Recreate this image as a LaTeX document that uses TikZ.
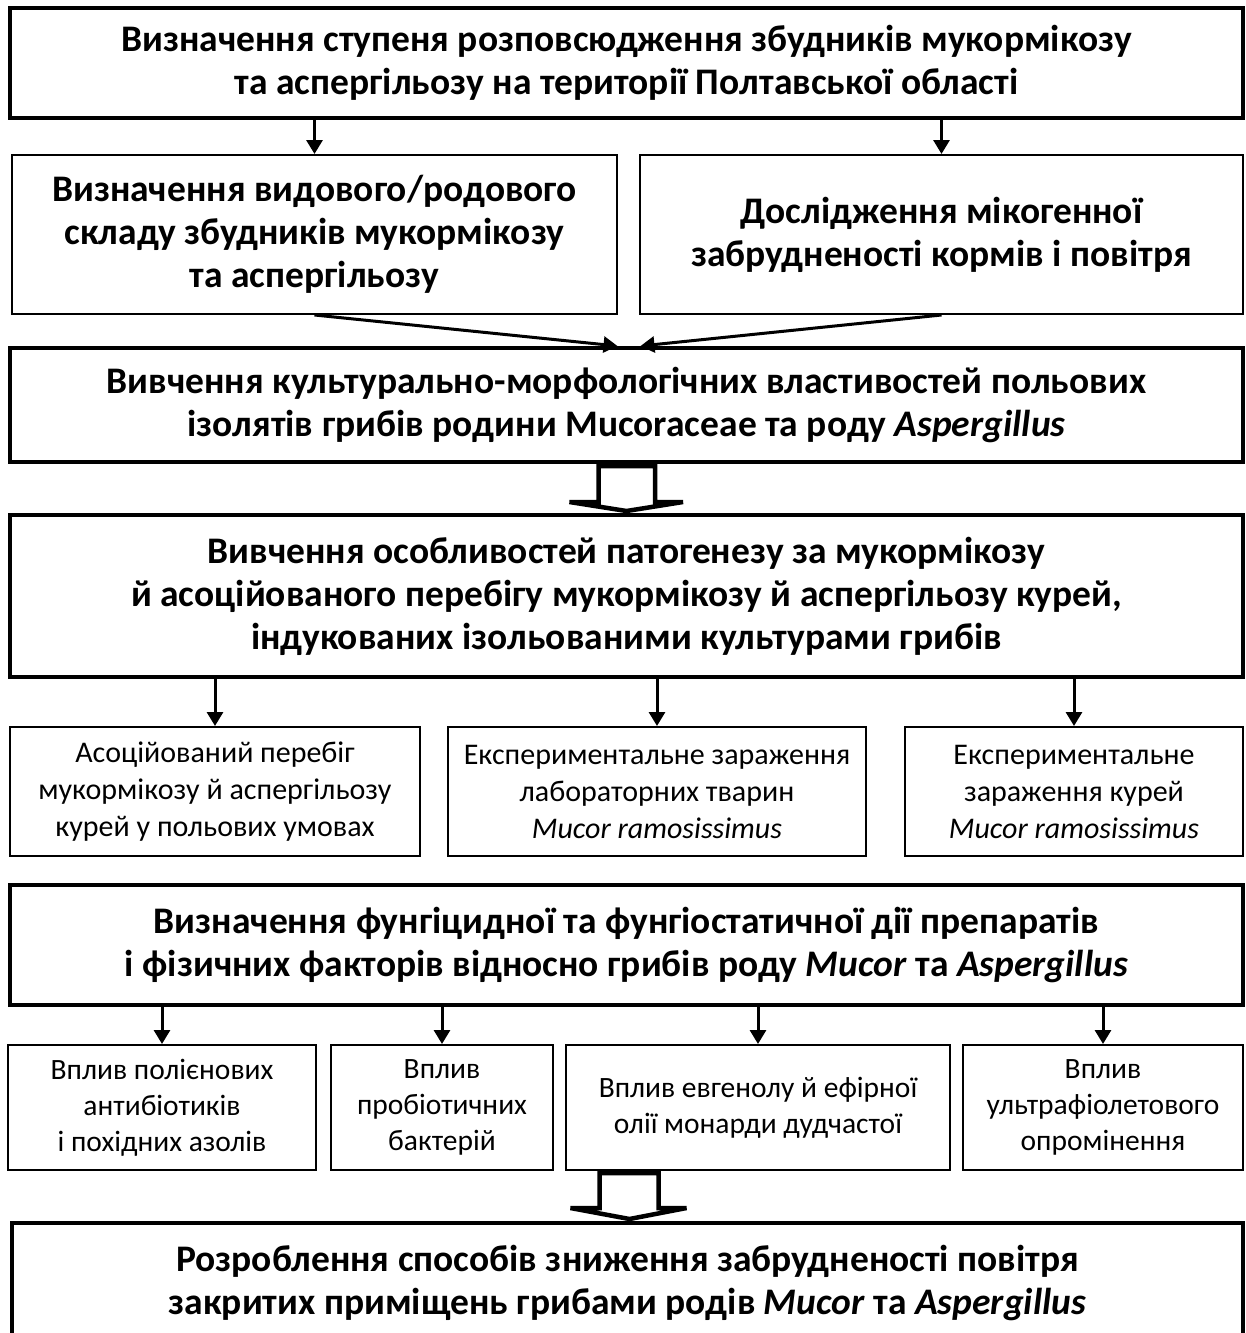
\documentclass[tikz,border=0pt]{standalone}
\usepackage{fontspec}
\setmainfont{Carlito}
\usetikzlibrary{arrows.meta,calc}
\tikzset{
  bigbox/.style={draw, line width=4pt, inner sep=0pt, align=center, font=\fontsize{37.5}{43}\selectfont\bfseries},
  midbox/.style={draw, line width=2pt, inner sep=0pt, align=center, font=\fontsize{37.5}{43}\selectfont\bfseries},
  smallbox/.style={draw, line width=2pt, inner sep=0pt, align=center, font=\fontsize{30}{37}\selectfont},
  smallboxb/.style={smallbox, font=\fontsize{29.5}{36}\selectfont},
  arr/.style={line width=3pt, -{Triangle[length=14pt,width=16pt]}},
  blockarr/.style={draw, fill=white, line width=4.5pt, line join=miter}
}
\begin{document}
\begin{tikzpicture}[x=1pt,y=-1pt]
\useasboundingbox (0,0) rectangle (1245,1333);
% boxes
\node[bigbox, minimum width=1233, minimum height=110] (b1) at (626.5,63)
  {Визначення ступеня розповсюдження збудників мукормікозу\\та аспергільозу на території Полтавської області};
\node[midbox, minimum width=605, minimum height=159] (b2l) at (314.5,234.5)
  {Визначення видового/родового\\складу збудників мукормікозу\\та аспергільозу};
\node[midbox, minimum width=603, minimum height=159] (b2r) at (941.5,234.5)
  {Дослідження мікогенної\\забрудненості кормів і повітря};
\node[bigbox, minimum width=1233, minimum height=114] (b3) at (626.5,405)
  {Вивчення культурально-морфологічних властивостей польових\\ізолятів грибів родини Mucoraceae та роду \textit{Aspergillus}};
\node[bigbox, minimum width=1233, minimum height=162] (b4) at (626.5,596)
  {Вивчення особливостей патогенезу за мукормікозу\\й асоційованого перебігу мукормікозу й аспергільозу курей,\\індукованих ізольованими культурами грибів};
\node[smallbox, minimum width=410, minimum height=129] (r1a) at (215,791.5)
  {Асоційований перебіг\\мукормікозу й аспергільозу\\курей у польових умовах};
\node[smallbox, minimum width=418, minimum height=129] (r1b) at (657,791.5)
  {Експериментальне зараження\\лабораторних тварин\\\textit{Mucor ramosissimus}};
\node[smallbox, minimum width=338, minimum height=129] (r1c) at (1074,791.5)
  {Експериментальне\\зараження курей\\\textit{Mucor ramosissimus}};
\node[bigbox, minimum width=1233, minimum height=120] (b5) at (626.5,945)
  {Визначення фунгіцидної та фунгіостатичної дії препаратів\\і фізичних факторів відносно грибів роду \textit{Mucor} та \textit{Aspergillus}};
\node[smallboxb, minimum width=308, minimum height=125] (r2a) at (162,1107.5)
  {Вплив полієнових\\антибіотиків\\і похідних азолів};
\node[smallboxb, minimum width=222, minimum height=125] (r2b) at (442,1107.5)
  {Вплив\\пробіотичних\\бактерій};
\node[smallboxb, minimum width=384, minimum height=125] (r2c) at (758,1107.5)
  {Вплив евгенолу й ефірної\\олії монарди дудчастої};
\node[smallboxb, minimum width=280, minimum height=125] (r2d) at (1103,1107.5)
  {Вплив\\ультрафіолетового\\опромінення};
\node[bigbox, minimum width=1231, minimum height=120] (b6) at (627.5,1283)
  {Розроблення способів зниження забрудненості повітря\\закритих приміщень грибами родів \textit{Mucor} та \textit{Aspergillus}};
% arrows
\draw[arr] (b1.south -| b2l.north) -- (b2l.north);
\draw[arr] (b1.south -| b2r.north) -- (b2r.north);
\draw[arr] (b2l.south) -- ($(b3.north)+(-9,0)$);
\draw[arr] (b2r.south) -- ($(b3.north)+(14,0)$);
\draw[blockarr] ($(b3.south)+(-28,2)$) -- ++(0,36) -- ++(-29,0) -- ($(b4.north)+(0,-2)$) -- ($(b3.south)+(56.5,38)$) -- ++(-28,0) -- ++(0,-36) -- cycle;
\draw[arr] (b4.south -| r1a.north) -- (r1a.north);
\draw[arr] (b4.south -| r1b.north) -- (r1b.north);
\draw[arr] (b4.south -| r1c.north) -- (r1c.north);
\draw[arr] (b5.south -| r2a.north) -- (r2a.north);
\draw[arr] (b5.south -| r2b.north) -- (r2b.north);
\draw[arr] (b5.south -| r2c.north) -- (r2c.north);
\draw[arr] (b5.south -| r2d.north) -- (r2d.north);
\draw[blockarr] ($(r2c.south -| b6.north)+(-28,2)$) -- ++(0,35) -- ++(-29,0) -- ($(b6.north)+(2,-2)$) -- ($(r2c.south -| b6.north)+(59,37)$) -- ++(-28,0) -- ++(0,-35) -- cycle;
\end{tikzpicture}
\end{document}
